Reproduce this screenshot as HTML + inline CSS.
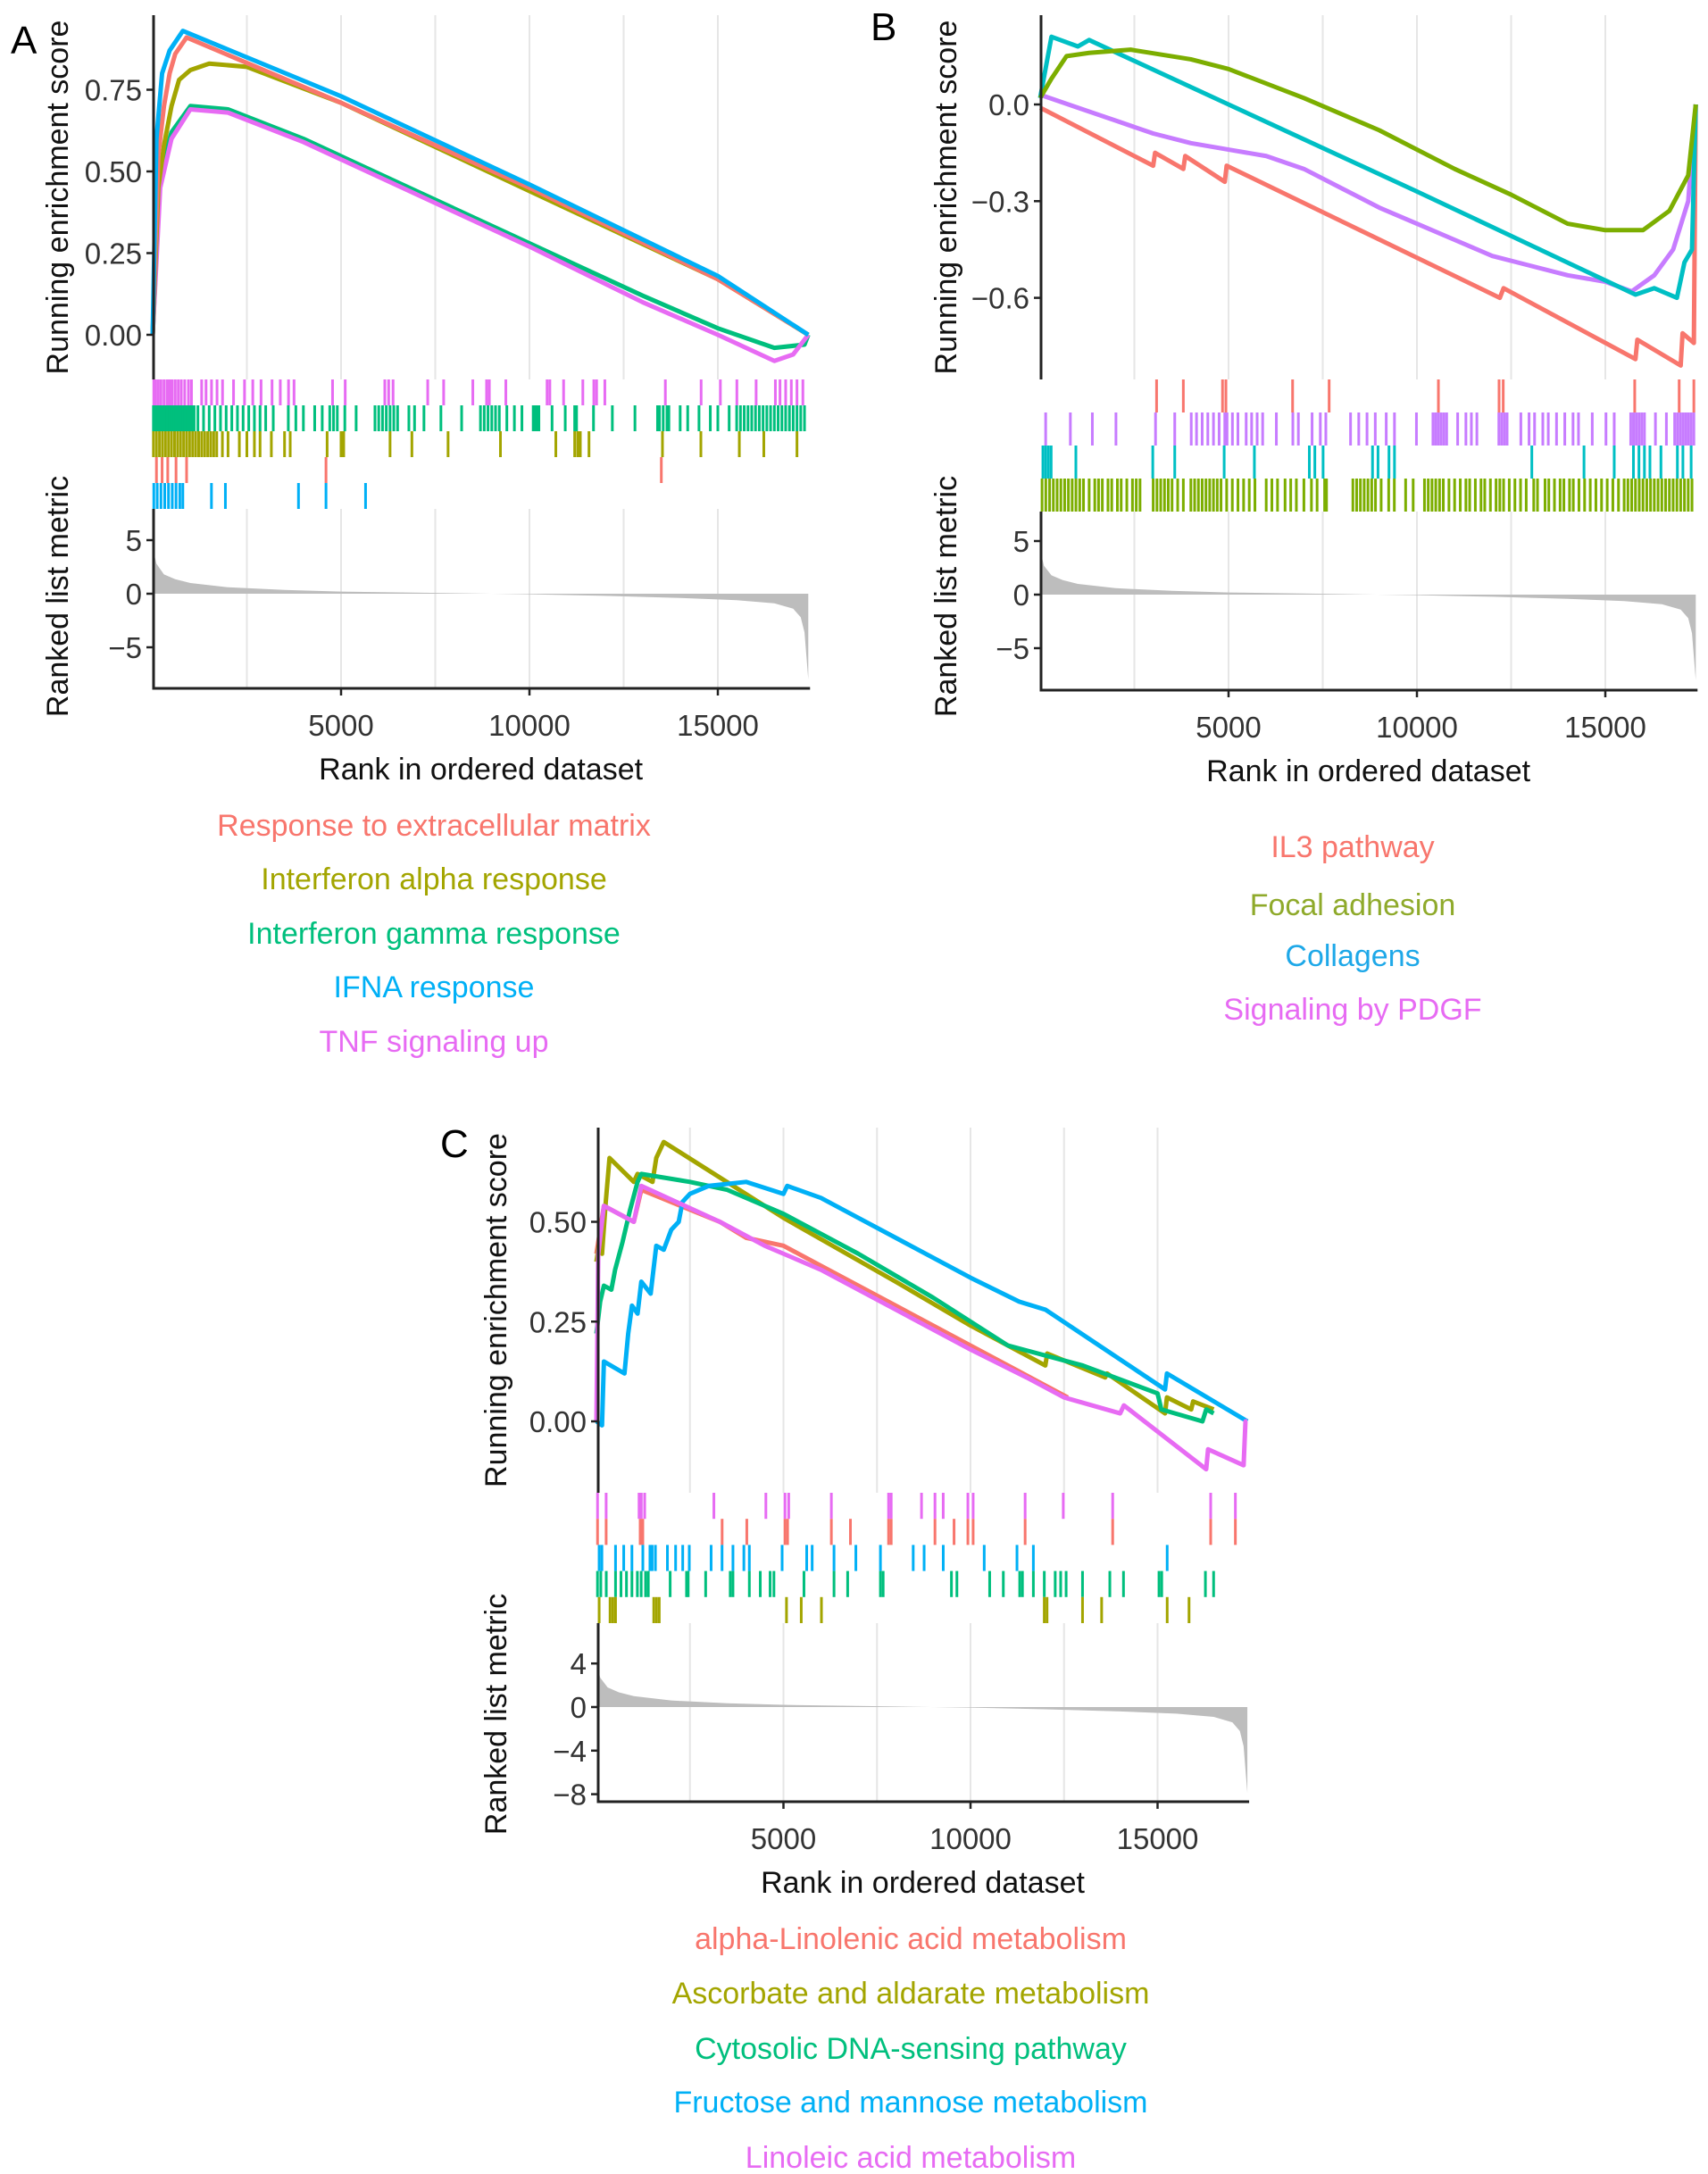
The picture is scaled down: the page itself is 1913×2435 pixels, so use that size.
<!DOCTYPE html>
<html>
<head>
<meta charset="utf-8">
<style>
html,body{margin:0;padding:0;background:#fff;}
svg{display:block;font-family:"Liberation Sans",Arial,sans-serif;}
</style>
</head>
<body>
<svg id="fig" width="1913" height="2435" viewBox="0 0 1913 2435" xmlns="http://www.w3.org/2000/svg"></svg>
<script>
// ===== Panel A data =====
const aTicksES = [0, 0.25, 0.5, 0.75];
const aTickLabelsES = ["0.00", "0.25", "0.50", "0.75"];
const aRespECM = [[0,0],[150,0.55],[300,0.70],[450,0.80],[600,0.86],[900,0.91],[5000,0.71],[10000,0.45],[15000,0.17],[17400,0]];
const aIFNalpha = [[0,0],[150,0.45],[300,0.58],[500,0.70],[700,0.78],[1000,0.81],[1500,0.83],[2500,0.82],[5000,0.71],[10000,0.44],[15000,0.17],[17400,0]];
const aIFNgamma = [[0,0],[200,0.50],[500,0.62],[1000,0.70],[2000,0.69],[4000,0.60],[7000,0.44],[10000,0.28],[13000,0.12],[15000,0.02],[16500,-0.04],[17300,-0.03],[17400,0]];
const aIFNA = [[0,0],[100,0.60],[250,0.80],[450,0.87],[800,0.93],[5000,0.73],[10000,0.46],[15000,0.18],[17400,0]];
const aTNF = [[0,0],[200,0.45],[500,0.60],[1000,0.69],[2000,0.68],[4000,0.59],[7000,0.43],[10000,0.27],[13000,0.10],[15000,0.0],[16500,-0.08],[17000,-0.06],[17400,0]];
const aRugTNF = [30,80,150,220,300,380,450,520,600,680,760,850,950,1030,1300,1416,1562,1708,1854,2146,2438,2657,2876,3168,3387,3606,3752,4774,5110,6161,6263,6380,7300,7723,8497,8862,8935,9373,10468,10541,10906,11417,11709,11782,12001,13607,14556,15067,15505,16016,16527,16650,16800,16950,17100,17257];
const aRugGamma = [20,80,140,200,260,320,380,440,500,560,620,680,740,800,860,920,980,1040,1100,1200,1350,1500,1650,1800,1950,2100,2250,2400,2550,2700,2850,3000,3200,3600,3800,4000,4300,4500,4700,4800,4900,5100,5400,5900,6000,6100,6200,6300,6400,6500,6800,6950,7200,7650,8200,8700,8800,8900,9000,9100,9200,9400,9600,9800,10100,10150,10200,10250,10600,10950,11200,11250,11700,12200,12800,13400,13450,13550,13650,13700,14000,14200,14500,14800,15000,15300,15500,15600,15700,15800,15900,16000,16100,16200,16300,16400,16500,16600,16700,16800,16900,17000,17100,17200,17300];
const aRugAlpha = [20,100,180,260,340,420,500,580,660,740,820,900,980,1060,1140,1220,1300,1380,1460,1540,1620,1700,1850,2000,2300,2500,2700,2850,3150,3500,3650,4630,5000,5070,6300,6880,7840,9230,10700,11200,11280,11350,11580,13530,14550,15570,16220,17100];
const aRugECM = [100,250,400,620,900,4600,13500];
const aRugIFNA = [30,120,220,320,420,520,620,720,800,1560,1930,3870,4600,5650];
const aMetricRank = [0,100,300,600,1000,2000,3500,5000,8000,10000,12000,14000,15500,16500,17000,17200,17300,17400];
const aMetricVal = [4.3,2.8,1.8,1.35,1.0,0.6,0.35,0.2,0.05,-0.05,-0.2,-0.4,-0.6,-0.9,-1.4,-2.2,-3.6,-8.0];

// ===== Panel B data =====
const bTicksES = [-0.6, -0.3, 0];
const bTickLabelsES = ["\u22120.6", "\u22120.3", "0.0"];
const bIL3 = [[0,-0.01],[3000,-0.19],[3050,-0.15],[3800,-0.20],[3850,-0.16],[4900,-0.24],[4950,-0.19],[12200,-0.60],[12300,-0.57],[15800,-0.79],[15850,-0.73],[17000,-0.81],[17050,-0.71],[17350,-0.74],[17400,0]];
const bFocal = [[0,0.02],[300,0.08],[700,0.15],[1300,0.16],[2400,0.17],[4000,0.14],[5000,0.11],[7000,0.02],[9000,-0.08],[11000,-0.20],[12500,-0.28],[14000,-0.37],[15000,-0.39],[16000,-0.39],[16700,-0.33],[17200,-0.22],[17400,0]];
const bCollagens = [[0,0.02],[300,0.21],[1000,0.18],[1300,0.20],[5000,0.0],[10000,-0.27],[15800,-0.59],[16300,-0.57],[16900,-0.60],[17100,-0.49],[17300,-0.45],[17400,0]];
const bPDGF = [[0,0.03],[1000,-0.01],[2000,-0.05],[3000,-0.09],[4000,-0.12],[5000,-0.14],[6000,-0.16],[7000,-0.20],[8000,-0.26],[9000,-0.32],[10000,-0.37],[11000,-0.42],[12000,-0.47],[13000,-0.50],[14000,-0.53],[15000,-0.55],[15700,-0.58],[16300,-0.53],[16800,-0.45],[17200,-0.30],[17400,0]];
const bRugIL3 = [3090,3800,4840,4930,6700,7670,10570,12180,12290,15780,16960,17350];
const bRugPDGF = [146,802,1385,2012,3062,3572,4010,4150,4300,4450,4600,4750,4900,4960,5103,5249,5468,5613,5759,5905,6269,6707,6853,7217,7436,7582,8238,8456,8675,8894,9185,9404,9987,10425,10498,10571,10644,10717,10789,11081,11300,11445,11591,12174,12247,12320,12393,12758,12976,13122,13341,13486,13705,13924,14143,14288,14653,15017,15236,15674,15747,15820,15893,15966,16039,16330,16621,16840,16913,16986,17059,17132,17205,17278,17350];
const bRugCollagens = [73,146,219,292,948,2989,3572,4884,5686,7144,7290,7509,8821,8967,9258,9404,13049,14434,15236,15746,15892,16038,16184,16476,16913,17059,17278];
const bRugFocal = [50,150,250,350,450,550,650,750,850,950,1050,1150,1300,1450,1550,1650,1800,1900,2050,2150,2300,2450,2550,2650,3000,3100,3200,3300,3400,3500,3650,3800,4000,4100,4200,4300,4400,4500,4600,4700,4800,4950,5100,5250,5400,5550,5700,6000,6150,6300,6500,6650,6800,7000,7200,7350,7550,7600,8300,8400,8500,8600,8700,8800,8900,9050,9250,9400,9700,9900,10200,10300,10400,10500,10600,10700,10850,11000,11150,11300,11400,11550,11700,11800,11950,12100,12200,12300,12450,12600,12750,12900,13100,13200,13400,13500,13650,13800,13900,14050,14150,14300,14450,14600,14750,14900,15050,15200,15350,15500,15600,15700,15800,15900,16000,16100,16200,16300,16400,16500,16600,16700,16800,16900,17000,17100,17200,17300];
const bMetricRank = [0,100,300,600,1000,2000,3500,5000,8000,10000,12000,14000,15500,16500,17000,17200,17300,17400];
const bMetricVal = [4.2,2.7,1.8,1.35,1.0,0.6,0.35,0.2,0.05,-0.05,-0.2,-0.4,-0.6,-0.9,-1.4,-2.2,-3.6,-8.0];

// ===== Panel C data =====
const cTicksES = [0, 0.25, 0.5];
const cTickLabelsES = ["0.00", "0.25", "0.50"];
const cTicksMetric = [-8, -4, 0, 4];
const cTickLabelsMetric = ["\u22128", "\u22124", "0", "4"];
const cAlphaLin = [[0,0.42],[200,0.54],[1000,0.50],[1200,0.58],[3300,0.50],[4000,0.46],[5000,0.44],[6000,0.39],[8000,0.29],[10000,0.19],[12000,0.09],[12600,0.06]];
const cAscorbate = [[0,0.40],[80,0.45],[150,0.42],[250,0.55],[350,0.66],[1000,0.60],[1100,0.62],[1500,0.60],[1600,0.66],[1800,0.70],[5000,0.51],[8000,0.35],[10000,0.24],[12000,0.14],[12050,0.17],[13600,0.11],[13650,0.12],[15200,0.02],[15250,0.06],[15900,0.03],[15950,0.05],[16500,0.03]];
const cCytosolic = [[0,0.22],[100,0.30],[200,0.34],[400,0.33],[500,0.38],[700,0.45],[900,0.53],[1100,0.60],[1200,0.62],[2500,0.60],[3500,0.58],[5000,0.52],[7000,0.42],[9000,0.31],[11000,0.19],[13000,0.14],[15000,0.07],[15100,0.03],[16200,0.0],[16300,0.03],[16500,0.02]];
const cFructose = [[0,0.0],[150,-0.01],[200,0.15],[750,0.12],[850,0.22],[950,0.29],[1100,0.27],[1200,0.35],[1450,0.32],[1600,0.44],[1800,0.43],[2000,0.48],[2200,0.50],[2300,0.55],[2500,0.57],[3000,0.59],[4000,0.60],[5000,0.57],[5100,0.59],[6000,0.56],[7000,0.51],[8000,0.46],[10000,0.36],[11300,0.30],[12000,0.28],[15200,0.08],[15250,0.12],[17400,0.0]];
const cLinoleic = [[0,0.0],[50,0.42],[200,0.54],[1000,0.50],[1200,0.59],[3300,0.50],[4500,0.44],[5000,0.42],[6000,0.38],[8000,0.28],[10000,0.18],[11500,0.11],[12500,0.06],[14000,0.02],[14100,0.04],[16300,-0.12],[16350,-0.07],[17300,-0.11],[17350,0.0],[17400,0.0]];
const cRugLinoleic = [30,260,1140,1200,1290,3140,4530,5040,5140,6280,7810,7880,8690,9050,9270,9930,10070,11460,12480,13800,16420,17080];
const cRugAlphaLin = [30,260,1170,1240,3360,4020,5040,5110,6280,6790,7810,7880,9050,9560,9930,10070,11460,13800,16420,17080];
const cRugFructose = [73,146,511,730,949,1241,1431,1490,1577,1898,2117,2307,2482,3066,3358,3650,3942,4088,4964,5621,5767,6351,6935,7592,8468,8760,9271,10366,11242,11680,15257];
const cRugCytosolic = [29,117,263,511,657,803,949,1095,1197,1314,1387,1971,2409,2453,2920,3577,3650,4088,4380,4643,4745,5548,6351,6716,7592,7665,9490,9636,10512,10877,11315,11388,11680,11972,12264,12410,12556,12994,13724,14089,15038,15111,16279,16498];
const cRugAscorbate = [73,365,438,511,1533,1606,1679,5081,5475,6015,11972,12045,12994,13505,15257,15841];
const cMetricRank = [0,100,300,600,1000,2000,3500,5000,8000,10000,12000,14000,15500,16500,17000,17200,17300,17400];
const cMetricVal = [4.2,2.7,1.8,1.35,1.0,0.6,0.35,0.2,0.05,-0.05,-0.2,-0.4,-0.6,-0.9,-1.4,-2.2,-3.6,-7.9];

const xTicks = [5000, 10000, 15000];
const xGrid = [2500, 5000, 7500, 10000, 12500, 15000];
const metricTicks5 = [-5, 0, 5];
const metricTickLabels5 = ["\u22125", "0", "5"];

const NS = "http://www.w3.org/2000/svg";
const svg = document.getElementById("fig");
function mk(tag, attrs, parent) {
  const el = document.createElementNS(NS, tag);
  for (const k in attrs) el.setAttribute(k, attrs[k]);
  (parent || svg).appendChild(el);
  return el;
}

const TICKFS = 33, TITLEFS = 34, LEGFS = 34;

function drawPanel(p) {
  const g = mk("g", {});
  
  
  const X = r => p.x0 + r * p.kx;
  const YE = v => p.es0 + -v * p.kes;
  const YM = v => p.m0 + -v * p.km;
  const xEnd = X(17400);
  for (const r of xGrid) {
    const gl = mk("line", {x1: X(r), x2: X(r), y1: p.top, y2: p.esBot, stroke: "#e6e6e6", "stroke-width": 2}, g);
    
    
    const gl2 = mk("line", {x1: X(r), x2: X(r), y1: p.rugBot, y2: p.axisY, stroke: "#e6e6e6", "stroke-width": 2}, g);
    
    
  }
  let d = "M" + X(p.mRank[0]) + "," + YM(0);
  for (let i = 0; i < p.mRank.length; i++) d += " L" + X(p.mRank[i]) + "," + YM(p.mVal[i]);
  d += " L" + X(p.mRank[p.mRank.length - 1]) + "," + YM(0) + " Z";
  const area = mk("path", {d: d, fill: "#bdbdbd", stroke: "none"}, g);
  
  
  p.rugs.forEach((rug, i) => {
    const y1 = p.esBot + i * p.rowH, y2 = y1 + p.rowH;
    for (const r of rug.ranks) {
      const t = mk("line", {x1: X(r), x2: X(r), y1: y1, y2: y2, stroke: rug.color, "stroke-width": 3}, g);
      
      
    }
  });
  for (const s of p.series) {
    const pts = s.pts.map(q => X(q[0]) + "," + YE(q[1])).join(" ");
    const pl = mk("polyline", {points: pts, fill: "none", stroke: s.color, "stroke-width": 5, "stroke-linejoin": "round"}, g);
    
    
  }
  const ya = mk("line", {x1: p.axisX, x2: p.axisX, y1: p.top, y2: p.esBot, stroke: "#222", "stroke-width": 3}, g);
  
  
  const ya2 = mk("line", {x1: p.axisX, x2: p.axisX, y1: p.rugBot, y2: p.axisY + 1.5, stroke: "#222", "stroke-width": 3}, g);
  
  
  const xa = mk("line", {x1: p.axisX, x2: xEnd + 2, y1: p.axisY, y2: p.axisY, stroke: "#222", "stroke-width": 3}, g);
  
  
  p.esTicks.forEach((v, i) => {
    const tk = mk("line", {x1: p.axisX - 8, x2: p.axisX, y1: YE(v), y2: YE(v), stroke: "#222", "stroke-width": 2.5}, g);
    
    
    const tl = mk("text", {x: p.axisX - 13, y: YE(v) + 12, "text-anchor": "end", "font-size": TICKFS, fill: "#333"}, g);
    tl.textContent = p.esLabels[i];
    
    
  });
  p.mTicks.forEach((v, i) => {
    const tk = mk("line", {x1: p.axisX - 8, x2: p.axisX, y1: YM(v), y2: YM(v), stroke: "#222", "stroke-width": 2.5}, g);
    
    
    const tl = mk("text", {x: p.axisX - 13, y: YM(v) + 12, "text-anchor": "end", "font-size": TICKFS, fill: "#333"}, g);
    tl.textContent = p.mLabels[i];
    
    
  });
  for (const r of xTicks) {
    const tk = mk("line", {x1: X(r), x2: X(r), y1: p.axisY, y2: p.axisY + 8, stroke: "#222", "stroke-width": 2.5}, g);
    
    
    const tl = mk("text", {x: X(r), y: p.axisY + 53, "text-anchor": "middle", "font-size": TICKFS, fill: "#333"}, g);
    tl.textContent = String(r);
    
    
  }
  const xt = mk("text", {x: (p.axisX + xEnd) / 2, y: p.axisY + 102, "text-anchor": "middle", "font-size": TITLEFS, fill: "#111"}, g);
  xt.textContent = "Rank in ordered dataset";
  
  
  const esc = (p.top + p.esBot) / 2;
  const yt = mk("text", {x: p.titleX, y: esc, "text-anchor": "middle", "font-size": TITLEFS, fill: "#111", transform: "rotate(-90 " + p.titleX + " " + esc + ")"}, g);
  yt.textContent = "Running enrichment score";
  
  
  const mc = p.mTitleY;
  const mt = mk("text", {x: p.titleX, y: mc, "text-anchor": "middle", "font-size": TITLEFS, fill: "#111", transform: "rotate(-90 " + p.titleX + " " + mc + ")"}, g);
  mt.textContent = "Ranked list metric";
  
  
  const lt = mk("text", {x: p.letterX, y: p.letterY, "font-size": 44, fill: "#000"}, g);
  lt.textContent = p.letter;
  
  
  p.legend.forEach((l, i) => {
    const t = mk("text", {x: p.legX, y: p.legY[i], "text-anchor": "middle", "font-size": LEGFS, fill: l.color}, g);
    t.textContent = l.text;
    
    
  });
}

const RED = "#F8766D", OLIVE = "#A3A500", GREEN = "#00BF7D", BLUE = "#00B0F6", PINK = "#E76BF3";

drawPanel({
  name: "panel-a", letter: "A", letterX: 12, letterY: 60,
  x0: 171, kx: 0.0422, axisX: 172, top: 17, es0: 375, kes: 366, esBot: 425,
  rowH: 29, rugBot: 570, m0: 665, km: 12, axisY: 771, titleX: 76, mTitleY: 668,
  series: [
    {name: "interferon-gamma", pts: aIFNgamma, color: GREEN},
    {name: "tnf-signaling", pts: aTNF, color: PINK},
    {name: "interferon-alpha", pts: aIFNalpha, color: OLIVE},
    {name: "response-ecm", pts: aRespECM, color: RED},
    {name: "ifna-response", pts: aIFNA, color: BLUE}
  ],
  rugs: [
    {name: "tnf", ranks: aRugTNF, color: PINK},
    {name: "ifn-gamma", ranks: aRugGamma, color: GREEN},
    {name: "ifn-alpha", ranks: aRugAlpha, color: OLIVE},
    {name: "ecm", ranks: aRugECM, color: RED},
    {name: "ifna", ranks: aRugIFNA, color: BLUE}
  ],
  mRank: aMetricRank, mVal: aMetricVal,
  esTicks: aTicksES, esLabels: aTickLabelsES,
  mTicks: metricTicks5, mLabels: metricTickLabels5,
  legX: 486, legY: [936, 996, 1057, 1117, 1178],
  legend: [
    {text: "Response to extracellular matrix", color: RED},
    {text: "Interferon alpha response", color: OLIVE},
    {text: "Interferon gamma response", color: GREEN},
    {text: "IFNA response", color: BLUE},
    {text: "TNF signaling up", color: PINK}
  ]
});

drawPanel({
  name: "panel-b", letter: "B", letterX: 975, letterY: 45,
  x0: 1165, kx: 0.0422, axisX: 1166, top: 17, es0: 117, kes: 361, esBot: 425,
  rowH: 37, rugBot: 573, m0: 666, km: 12, axisY: 773, titleX: 1071, mTitleY: 668,
  series: [
    {name: "il3-pathway", pts: bIL3, color: RED},
    {name: "signaling-pdgf", pts: bPDGF, color: "#C77CFF"},
    {name: "collagens", pts: bCollagens, color: "#00BFC4"},
    {name: "focal-adhesion", pts: bFocal, color: "#7CAE00"}
  ],
  rugs: [
    {name: "il3", ranks: bRugIL3, color: RED},
    {name: "pdgf", ranks: bRugPDGF, color: "#C77CFF"},
    {name: "collagens", ranks: bRugCollagens, color: "#00BFC4"},
    {name: "focal", ranks: bRugFocal, color: "#7CAE00"}
  ],
  mRank: bMetricRank, mVal: bMetricVal,
  esTicks: bTicksES, esLabels: bTickLabelsES,
  mTicks: metricTicks5, mLabels: metricTickLabels5,
  legX: 1515, legY: [960, 1025, 1082, 1142],
  legend: [
    {text: "IL3 pathway", color: RED},
    {text: "Focal adhesion", color: "#8FAA2B"},
    {text: "Collagens", color: "#1EA8E8"},
    {text: "Signaling by PDGF", color: PINK}
  ]
});

drawPanel({
  name: "panel-c", letter: "C", letterX: 493, letterY: 1296,
  x0: 668, kx: 0.0419, axisX: 670, top: 1263, es0: 1592, kes: 447, esBot: 1672,
  rowH: 29.2, rugBot: 1818, m0: 1912, km: 12.2, axisY: 2018, titleX: 567, mTitleY: 1920,
  series: [
    {name: "alpha-linolenic", pts: cAlphaLin, color: RED},
    {name: "ascorbate-aldarate", pts: cAscorbate, color: OLIVE},
    {name: "cytosolic-dna-sensing", pts: cCytosolic, color: GREEN},
    {name: "fructose-mannose", pts: cFructose, color: BLUE},
    {name: "linoleic-acid", pts: cLinoleic, color: PINK}
  ],
  rugs: [
    {name: "linoleic", ranks: cRugLinoleic, color: PINK},
    {name: "alpha-linolenic", ranks: cRugAlphaLin, color: RED},
    {name: "fructose", ranks: cRugFructose, color: BLUE},
    {name: "cytosolic", ranks: cRugCytosolic, color: GREEN},
    {name: "ascorbate", ranks: cRugAscorbate, color: OLIVE}
  ],
  mRank: cMetricRank, mVal: cMetricVal,
  esTicks: cTicksES, esLabels: cTickLabelsES,
  mTicks: cTicksMetric, mLabels: cTickLabelsMetric,
  legX: 1020, legY: [2183, 2244, 2306, 2366, 2428],
  legend: [
    {text: "alpha-Linolenic acid metabolism", color: RED},
    {text: "Ascorbate and aldarate metabolism", color: OLIVE},
    {text: "Cytosolic DNA-sensing pathway", color: GREEN},
    {text: "Fructose and mannose metabolism", color: BLUE},
    {text: "Linoleic acid metabolism", color: PINK}
  ]
});
</script>
</body>
</html>
